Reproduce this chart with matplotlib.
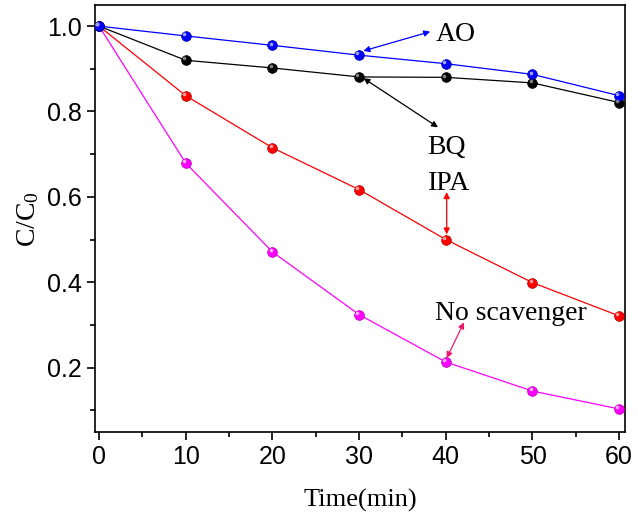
import matplotlib.pyplot as plt
from matplotlib.ticker import MultipleLocator
from matplotlib.transforms import offset_copy

plt.rcParams['mathtext.fontset'] = 'custom'
plt.rcParams['mathtext.rm'] = 'Liberation Serif'
plt.rcParams['mathtext.it'] = 'Liberation Serif:italic'

# Datos
tiempo = [0, 10, 20, 30, 40, 50, 60]
ao = [1.0, 0.977, 0.955, 0.932, 0.912, 0.887, 0.837]
bq = [1.0, 0.920, 0.902, 0.881, 0.880, 0.867, 0.821]
ipa = [1.0, 0.837, 0.715, 0.617, 0.500, 0.399, 0.321]
sin_scav = [1.0, 0.679, 0.471, 0.324, 0.213, 0.145, 0.103]

fig = plt.figure(figsize=(6.38, 5.22), dpi=100)
ax = fig.add_axes([0.149, 0.1724, 0.831, 0.8176])

# brillo de las esferas
brillo = offset_copy(ax.transData, fig=fig, x=-1.3, y=1.3, units='points')

series = [(sin_scav, '#ff00ff', '#b000b0', '#ffb0ff'),
          (ipa, '#ff0000', '#b00000', '#ffa0a0'),
          (bq, '#000000', '#000000', '#808080'),
          (ao, '#0000ff', '#0000a0', '#a0a0ff')]
for y, c, ec, hl in series:
    ax.plot(tiempo, y, color=c, lw=0.9, marker='o', ms=7,
            mfc=c, mec=ec, mew=0.5, zorder=3)
    ax.plot(tiempo, y, ls='none', marker='o', ms=2.6, mfc=hl, mec='none',
            transform=brillo, zorder=4)

ax.set_xlim(-0.46, 60.7)
ax.set_ylim(0.049, 1.049)
ax.xaxis.set_major_locator(MultipleLocator(10))
ax.xaxis.set_minor_locator(MultipleLocator(5))
ax.yaxis.set_major_locator(MultipleLocator(0.2))
ax.yaxis.set_minor_locator(MultipleLocator(0.1))
ax.tick_params(which='both', direction='out', top=False, right=False, width=1.2)
ax.tick_params(which='major', length=6, labelsize=18)
ax.tick_params(which='minor', length=3.5)
for lbl in ax.get_xticklabels() + ax.get_yticklabels():
    lbl.set_fontfamily('Liberation Sans')
for s in ax.spines.values():
    s.set_linewidth(1.2)

ax.set_xlabel('Time(min)', fontsize=19, family='Liberation Serif', labelpad=14)
ax.set_ylabel('C/C$_0$', fontsize=20, family='Liberation Serif', labelpad=4)

def flecha(texto, xy, xytext, color, tpos):
    ax.annotate('', xy=xy, xytext=xytext,
                arrowprops=dict(arrowstyle='<|-|>', color=color, lw=0.9,
                                mutation_scale=9, shrinkA=0, shrinkB=0))
    ax.text(tpos[0], tpos[1], texto, fontsize=20, family='Liberation Serif',
            ha='left', va='center')

flecha('AO', (30.5, 0.942), (38.2, 0.987), '#0000ff', (38.8, 0.980))
flecha('BQ', (30.5, 0.878), (39.1, 0.763), '#000000', (37.9, 0.715))
flecha('IPA', (40.1, 0.512), (40.1, 0.611), '#ff0000', (37.9, 0.632))
flecha('No scavenger', (40.1, 0.222), (42.1, 0.306), '#e8186e', (38.7, 0.327))

fig.savefig('out.png', dpi=100)
